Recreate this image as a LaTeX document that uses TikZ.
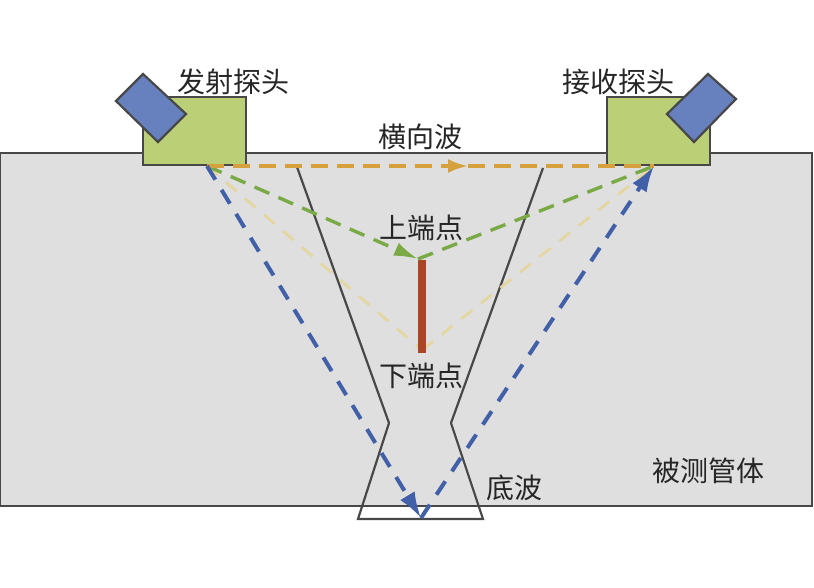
\documentclass[tikz,border=0pt]{standalone}
\usepackage{fontspec}
\setmainfont{Noto Sans CJK SC}
\usepackage{xcolor}
\usetikzlibrary{arrows.meta}
\definecolor{cPipe}{RGB}{223,223,224}
\definecolor{cEdge}{RGB}{72,72,72}
\definecolor{cWedge}{RGB}{187,207,118}
\definecolor{cProbe}{RGB}{103,128,190}
\definecolor{cBlue}{RGB}{66,96,168}
\definecolor{cGreen}{RGB}{122,170,70}
\definecolor{cPale}{RGB}{228,214,160}
\definecolor{cOrange}{RGB}{214,160,60}
\definecolor{cCrack}{RGB}{170,70,38}
\tikzset{
	edgeline/.style ={draw=cEdge, line width=2.2pt, line join=miter},
	wedge/.style    ={edgeline, fill=cWedge},
	probe/.style    ={edgeline, fill=cProbe},
	label/.style    ={font=\fontsize{28}{30}\selectfont, text=black!85, inner sep=0pt},
	bluewave/.style ={draw=cBlue, line width=4pt, dash pattern=on 16pt off 12pt, -{Latex[length=26pt, width=17pt]}},
	greenwave/.style={draw=cGreen, line width=3.4pt, dash pattern=on 16pt off 10pt, -{Latex[length=24pt, width=14pt]}},
	palewave/.style ={draw=cPale, line width=2.8pt, dash pattern=on 14pt off 11pt},
	orangewave/.style={draw=cOrange, line width=3.4pt, dash pattern=on 17pt off 9pt},
}

\begin{document}
\begin{tikzpicture}[x=1pt, y=-1pt]
	\useasboundingbox (0,0) rectangle (814,588);
	\coordinate (tx) at (207,166);
	\coordinate (rx) at (654,166);
	\coordinate (mid) at (468,166);
	\coordinate (up) at (418,259);
	\coordinate (low) at (422,350);
	\coordinate (back) at (421,518);
	% pipe wall and notch
	\draw[edgeline, fill=cPipe] (0,153) rectangle (812,506);
	\draw[edgeline] (297,167) -- (389,423) -- (358,519) -- (483,519) -- (451,423) -- (543,168);
	% wedges and probes
	\draw[wedge] (143,97) rectangle (246,165);
	\draw[wedge] (607,97) rectangle (710,165);
	\draw[probe] (143,74) -- (186,114) -- (158,142) -- (116,101) -- cycle;
	\draw[probe] (708,74) -- (736,99) -- (694,142) -- (667,114) -- cycle;
	% wave paths
	\draw[palewave] (tx) -- (low);
	\draw[palewave] (low) -- (rx);
	\draw[draw=cCrack, line width=8pt] (422,260) -- (422,353);
	\draw[greenwave] (tx) -- (up);
	\draw[greenwave, -] (up) -- (rx);
	\draw[orangewave, -{Latex[length=20pt, width=14pt]}] (tx) -- (mid);
	\draw[orangewave] (mid) -- (rx);
	\draw[bluewave] (tx) -- (back);
	\draw[bluewave] (back) -- (rx);
	% labels
	\node[label] (txlab) at (233,82) {发射探头};
	\node[label] (rxlab) at (618,82) {接收探头};
	\node[label] (latlab) at (420,137) {横向波};
	\node[label] (uplab) at (421,228) {上端点};
	\node[label] (lowlab) at (421,376) {下端点};
	\node[label] (backlab) at (514,488) {底波};
	\node[label] (pipelab) at (708,471) {被测管体};
\end{tikzpicture}
\end{document}
